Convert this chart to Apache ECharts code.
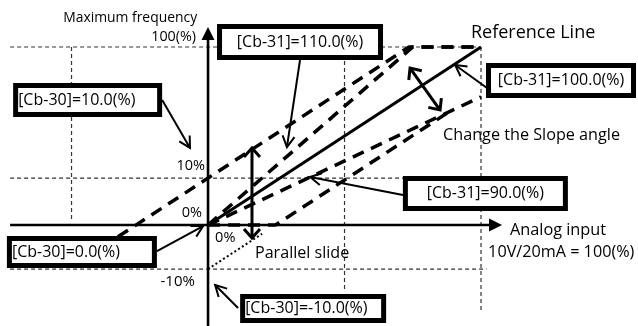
<!DOCTYPE html>
<html>
<head>
<meta charset="utf-8">
<script src="https://cdn.jsdelivr.net/npm/echarts@6.0.0/dist/echarts.min.js"></script>
<style>
  html, body { margin: 0; padding: 0; background: #fff; }
  #chart { width: 638px; height: 326px; }
</style>
</head>
<body>
<div id="chart"></div>
<script>
// plot extents, in % of input (x) and % of output (y)
const xRange = [-76.2, 157.5];
const yRange = [-56.7, 126.4];

// characteristic lines
const referenceLine = [[0, 0], [100, 100]];
const gain110Line = [[0, 0], [75, 100], [100, 100]];
const gain90Line = [[0, 0], [100, 72]];
const biasPlus10Line = [[-33, -6.6], [73.6, 100], [100, 100]];
const biasMinus10Line = [[0, 0], [24.7, 0], [88, 63.3]];
const biasMinus10Hidden = [[0, -24.7], [19.8, -4.9]];

// thin dashed guides
const guideTop = [[-72.5, 100], [100, 100]];
const guidePlus10 = [[-72.5, 26.4], [100, 26.4]];
const guideMinus10 = [[-72.5, -24.7], [102, -24.7]];
const guideHalfLeft = [[-50, 100], [-50, 2]];
const guideHalfRight = [[50, 100], [50, -37]];
const guideFull = [[100, 100], [100, -49.4]];

// axes: [from x, from y, tip x, tip y]
const axisArrows = [[-72.5, 0, 107.7, 0], [0, -56.7, 0, 111.2]];

// pointer arrows from the boxes: [from x, from y, to x, to y]
const pointerArrows = [
  [-16.8, 70.2, -6.6, 43.3],
  [33.7, 92.7, 28.9, 43.8],
  [102.2, 77, 90.5, 89.9],
  [71.4, 16.9, 37.4, 27],
  [-18.7, -14.6, -1.8, -0.6],
  [11, -46.6, 2.6, -33.7]
];
// double-headed arrows
const slideArrows = [[16.1, 43.3, 16.1, -7.3], [74, 88.2, 85, 64.6]];

// parameter boxes
const boxTexts = [
  "[Cb-30]=10.0(%)",
  "[Cb-31]=110.0(%)",
  "[Cb-31]=100.0(%)",
  "[Cb-31]=90.0(%)",
  "[Cb-30]=0.0(%)",
  "[Cb-30]=-10.0(%)"
];
const boxAnchors = [[-44.1, 70.2], [33.7, 102.8], [129.3, 81.2], [101.6, 17.7], [-46.2, -15.2], [38.5, -46.9]];
const boxSizes = [[149, 34, "left"], [166, 36, "center"], [150, 35, "center"], [165, 35, "center"], [150, 32, "left"], [146, 29, "left"]];

// free text labels
const labelTexts = [
  "Maximum frequency", "100(%)", "Reference Line", "Change the Slope angle",
  "10%", "0%", "0%", "-10%", "Parallel slide", "Analog input", "10V/20mA = 100(%)"
];
const labelAnchors = [
  [-4.0, 116.3], [-4.4, 105.6], [96.3, 107.9], [86.1, 50.6],
  [-1.1, 33.1], [-2.2, 6.7], [2.6, -7.3], [-4.8, -32], [17.2, -15.7], [110.6, -2.8], [102.6, -15.2]
];
const labelStyles = [
  ["right", 13.9], ["right", 14.3], ["left", 18], ["left", 16.2],
  ["right", 14.5], ["right", 14.5], ["left", 14.5], ["right", 15], ["left", 16.1], ["left", 16.3], ["left", 16.2]
];

const FONT = "'Open Sans', Lato, sans-serif";

function chevron(tip, from, len, half) {
  const dx = tip[0] - from[0];
  const dy = tip[1] - from[1];
  const d = Math.hypot(dx, dy) || 1;
  const ux = dx / d, uy = dy / d;
  const bx = tip[0] - ux * len, by = tip[1] - uy * len;
  return [[bx - uy * half, by + ux * half], tip, [bx + uy * half, by - ux * half]];
}

function arrowRenderer(width, len, half, both) {
  return function (params, api) {
    const p0 = api.coord([api.value(0), api.value(1)]);
    const p1 = api.coord([api.value(2), api.value(3)]);
    const stroke = { stroke: "#000", lineWidth: width, fill: null, lineJoin: "miter", lineCap: "butt" };
    const children = [
      { type: "polyline", shape: { points: [p0, p1] }, style: stroke },
      { type: "polyline", shape: { points: chevron(p1, p0, len, half) }, style: stroke }
    ];
    if (both) {
      children.push({ type: "polyline", shape: { points: chevron(p0, p1, len, half) }, style: stroke });
    }
    return { type: "group", children };
  };
}

function axisRenderer(params, api) {
  const p0 = api.coord([api.value(0), api.value(1)]);
  const tip = api.coord([api.value(2), api.value(3)]);
  const head = chevron(tip, p0, 13, 6.5);
  const base = [(head[0][0] + head[2][0]) / 2, (head[0][1] + head[2][1]) / 2];
  return {
    type: "group",
    children: [
      { type: "polyline", shape: { points: [p0, base] }, style: { stroke: "#000", lineWidth: 2.6, fill: null } },
      { type: "polygon", shape: { points: head }, style: { fill: "#000" } }
    ]
  };
}

function boxRenderer(params, api) {
  const c = api.coord([api.value(0), api.value(1)]);
  const size = boxSizes[params.dataIndex];
  const w = size[0], h = size[1], align = size[2];
  const x = c[0] - w / 2, y = c[1] - h / 2;
  const tx = align === "left" ? x + 5 : c[0];
  return {
    type: "group",
    children: [
      { type: "rect", shape: { x: x + 2.5, y: y + 2.5, width: w - 5, height: h - 5 }, style: { fill: "#fff", stroke: "#000", lineWidth: 5 } },
      { type: "text", x: tx, y: c[1], style: { text: boxTexts[params.dataIndex], font: "16px " + FONT, fill: "#000", align: align, verticalAlign: "middle" } }
    ]
  };
}

function labelRenderer(params, api) {
  const c = api.coord([api.value(0), api.value(1)]);
  const st = labelStyles[params.dataIndex];
  return {
    type: "text", x: c[0], y: c[1],
    style: { text: labelTexts[params.dataIndex], font: st[1] + "px " + FONT, fill: "#000", align: st[0], verticalAlign: "middle" }
  };
}

function guide(data) {
  return { type: "line", data, symbol: "none", silent: true, z: 1,
    lineStyle: { color: "#333", width: 1.2, type: [4, 3] } };
}
function dashed(data) {
  return { type: "line", data, symbol: "none", silent: true, z: 3,
    lineStyle: { color: "#000", width: 3.5, type: [12, 8] } };
}

const chart = echarts.init(document.getElementById("chart"), null, { renderer: "canvas" });
chart.setOption({
  animation: false,
  backgroundColor: "#fff",
  grid: { left: 0, right: 0, top: 0, bottom: 0 },
  xAxis: { type: "value", min: xRange[0], max: xRange[1], show: false },
  yAxis: { type: "value", min: yRange[0], max: yRange[1], show: false },
  series: [
    guide(guideTop), guide(guidePlus10), guide(guideMinus10),
    guide(guideHalfLeft), guide(guideHalfRight), guide(guideFull),
    { type: "custom", renderItem: axisRenderer, data: axisArrows, z: 4, silent: true },
    dashed(biasPlus10Line), dashed(gain110Line), dashed(gain90Line), dashed(biasMinus10Line),
    { type: "line", data: biasMinus10Hidden, symbol: "none", silent: true, z: 3,
      lineStyle: { color: "#000", width: 2, type: [2, 2.5] } },
    { type: "line", data: referenceLine, symbol: "none", silent: true, z: 5,
      lineStyle: { color: "#000", width: 3 } },
    { type: "custom", renderItem: arrowRenderer(2, 11, 6, false), data: pointerArrows, z: 6, silent: true },
    { type: "custom", renderItem: arrowRenderer(3, 9, 8, true), data: slideArrows, z: 6, silent: true },
    { type: "custom", renderItem: boxRenderer, data: boxAnchors, z: 8, silent: true },
    { type: "custom", renderItem: labelRenderer, data: labelAnchors, z: 8, silent: true }
  ]
});
</script>
</body>
</html>
